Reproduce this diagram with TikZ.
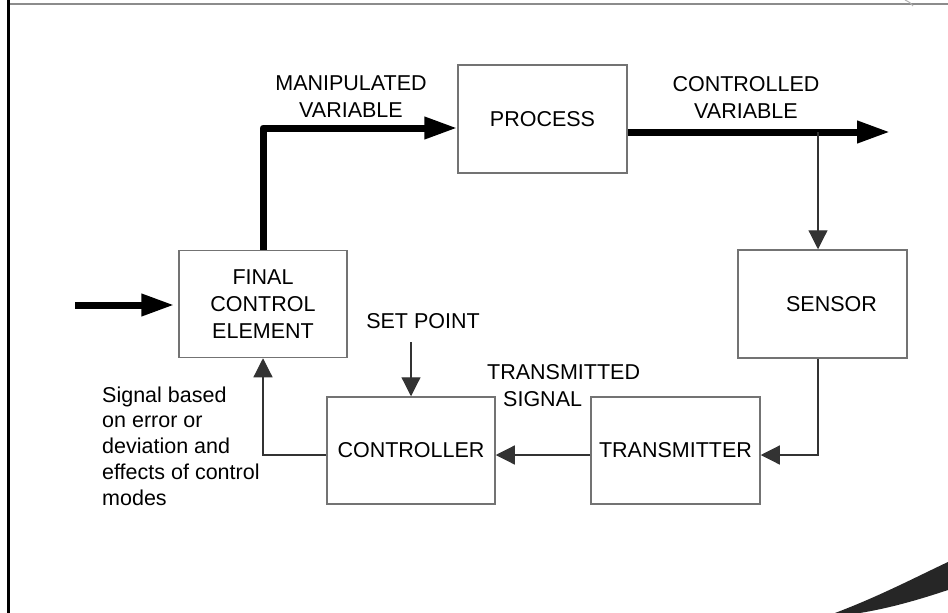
\documentclass[tikz,border=0pt]{standalone}
\usepackage{fontspec}
\setmainfont{Liberation Sans}
\usetikzlibrary{arrows.meta}

\begin{document}
\begin{tikzpicture}[x=1pt, y=-1pt,
    every node/.style={font=\fontsize{21.5}{27}\selectfont, inner sep=0pt},
    block/.style={draw=black!55, line width=1.5pt, minimum width=168pt, minimum height=107pt, align=center},
    thinarr/.style={draw=black!80, line width=1.2pt, -{Triangle[length=19pt, width=19pt]}},
    thickarr/.style={draw=black, line width=7pt, line join=round, -{Triangle[length=33pt, width=21pt]}},
    lbl/.style={align=center}]
  \useasboundingbox (0,0) rectangle (948,613);

  % slide frame
  \draw[black!45, line width=2pt] (8,4) -- (948,4);
  \draw[black!30, line width=1pt] (905,0) .. controls (909,2) and (911,3) .. (913,6);
  \draw[black, line width=3pt] (8,0) -- (8,613);
  \fill[black!85] (835,613) .. controls (880,596) and (918,576) .. (948,562)
                  -- (948,590) .. controls (918,600) and (890,608) .. (860,613) -- cycle;

  % blocks
  \node[block] (fce) at (263,304) {FINAL\\CONTROL\\ELEMENT};
  \node[block, minimum width=169pt, minimum height=108pt] (process) at (542.5,119) {PROCESS};
  \node[block, minimum width=169pt, minimum height=108pt] (sensor) at (822.5,304) {\hspace*{18pt}SENSOR};
  \node[block, minimum width=169pt] (transmitter) at (675.5,450.5) {TRANSMITTER};
  \node[block] (controller) at (411,450.5) {CONTROLLER};

  % labels
  \node[lbl] (mvlabel) at (351,97) {MANIPULATED\\VARIABLE};
  \node[lbl] (cvlabel) at (746,97) {CONTROLLED\\VARIABLE};
  \node[anchor=west, align=left] (tslabel) at (487,386) {TRANSMITTED\\\hspace*{16pt}SIGNAL};
  \node (splabel) at (423,321) {SET POINT};
  \node[anchor=west, align=left, font=\fontsize{21.5}{25.7}\selectfont] (note) at (102,446)
    {Signal based\\on error or\\deviation and\\effects of control\\modes};

  % reference points
  \coordinate (inp) at (75,305);
  \coordinate (mvy) at (0,128);
  \coordinate (cvy) at (0,132);
  \coordinate (outend) at (890,132);
  \coordinate (tap) at (818,132);
  \coordinate (sig) at (0,455);
  \coordinate (spa) at (411,342);

  % forward path
  \draw[thickarr, shorten >=4pt] (inp) -- (fce.west |- inp);
  \draw[thickarr] (fce.north) |- (process.west |- mvy);
  \draw[thickarr] (process.east |- cvy) -- (outend);

  % measurement and feedback path
  \draw[thinarr] (tap) -- (sensor.north -| tap);
  \draw[thinarr] (sensor.south -| tap) |- (transmitter.east |- sig);
  \draw[thinarr] (transmitter.west |- sig) -- (controller.east |- sig);
  \draw[thinarr] (spa) -- (controller.north);
  \draw[thinarr] (controller.west |- sig) -| (fce.south);
\end{tikzpicture}
\end{document}
